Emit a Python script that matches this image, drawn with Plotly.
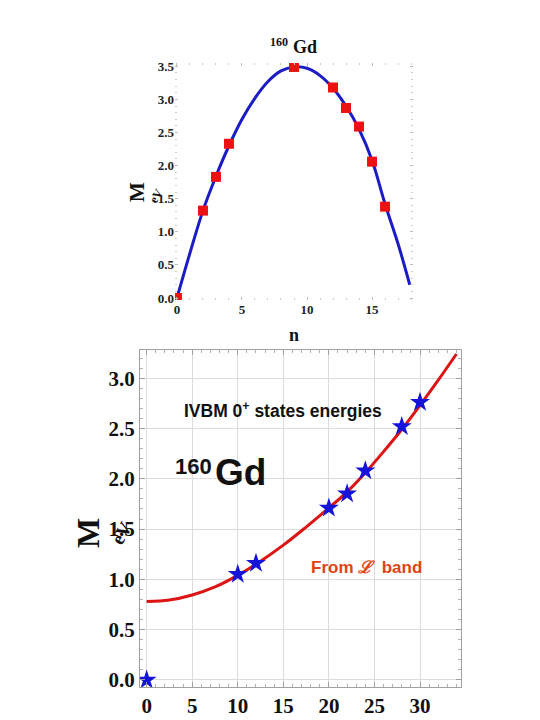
import plotly.graph_objects as go

# ---- top panel data ----
top_n = [0, 2, 3, 4, 9, 12, 13, 14, 15, 16]
top_e = [0.0, 1.32, 1.83, 2.33, 3.49, 3.18, 2.87, 2.59, 2.06, 1.38]
top_curve_n = [0, 1, 2, 3, 4, 5, 6, 7, 8, 9, 10, 11, 12, 13, 14, 15, 16, 17, 17.9]
top_curve_e = [0.0, 0.68, 1.32, 1.84, 2.3, 2.7, 3.02, 3.27, 3.43, 3.49, 3.47, 3.36, 3.17, 2.9, 2.55, 2.08, 1.42, 0.82, 0.2]
top_yticks = [0.0, 0.5, 1.0, 1.5, 2.0, 2.5, 3.0, 3.5]
top_xticks = [0, 5, 10, 15]

# ---- bottom panel data ----
bot_x = [0, 10, 12, 20, 22, 24, 28, 30]
bot_e = [0.0, 1.05, 1.16, 1.71, 1.85, 2.08, 2.52, 2.76]
bot_curve_x = [0, 2.5, 5, 7.5, 10, 12, 15, 17.5, 20, 22, 24, 26, 28, 30, 32, 34]
bot_curve_e = [0.78, 0.795, 0.845, 0.925, 1.04, 1.15, 1.34, 1.52, 1.71, 1.87, 2.06, 2.27, 2.49, 2.73, 2.98, 3.24]
bot_yticks = [0.0, 0.5, 1.0, 1.5, 2.0, 2.5, 3.0]
bot_xticks = [0, 5, 10, 15, 20, 25, 30]

W, H = 540, 720
OFF = 8  # page body margin offset
def px(x):
    return (x - OFF) / W
def py(y):
    return 1 - (y - OFF) / H

fig = go.Figure()

fig.add_trace(go.Scatter(x=top_curve_n, y=top_curve_e, mode="lines", line=dict(color="#1c1cc4", width=3, shape="spline"),
                         xaxis="x", yaxis="y", hoverinfo="skip"))
fig.add_trace(go.Scatter(x=top_n, y=top_e, mode="markers", marker=dict(symbol="square", color="#ee1111", size=10),
                         xaxis="x", yaxis="y"))

fig.add_trace(go.Scatter(x=bot_curve_x, y=bot_curve_e, mode="lines", line=dict(color="#dc1414", width=3, shape="spline"),
                         xaxis="x2", yaxis="y2", hoverinfo="skip"))
fig.add_trace(go.Scatter(x=bot_x, y=bot_e, mode="markers", marker=dict(symbol="star", color="#1414d8", size=15, line=dict(width=0)),
                         xaxis="x2", yaxis="y2"))

times = "Liberation Serif"
arial = "Liberation Sans"

fig.update_layout(
    width=W, height=H, margin=dict(l=0, r=0, t=0, b=0, autoexpand=False),
    paper_bgcolor="white", plot_bgcolor="white", showlegend=False,
    xaxis=dict(domain=[px(175), px(413)], range=[-0.15, 18.15], anchor="y", automargin=False,
               tickvals=top_xticks, ticktext=[f"<b>{v}</b>" for v in top_xticks],
               tickfont=dict(family=times, size=13, color="#222"), showgrid=False, zeroline=False,
               showline=False, ticks="inside", ticklen=3, tickcolor="#bbbbbb", mirror="ticks",
               minor=dict(dtick=1, ticks="inside", ticklen=2, tickcolor="#cccccc")),
    yaxis=dict(domain=[py(300), py(63)], range=[-0.03, 3.55], anchor="x", automargin=False,
               tickvals=top_yticks, ticktext=[f"<b>{v:.1f}</b>" for v in top_yticks],
               tickfont=dict(family=times, size=13, color="#222"), showgrid=False, zeroline=False,
               showline=False, ticks="inside", ticklen=3, tickcolor="#bbbbbb", mirror="ticks",
               minor=dict(dtick=0.1, ticks="inside", ticklen=2, tickcolor="#cccccc")),
    xaxis2=dict(domain=[px(140), px(461)], range=[-0.73, 34.5], anchor="y2", automargin=False,
                tickvals=bot_xticks, ticktext=[f"<b>{v}</b>" for v in bot_xticks],
                tickfont=dict(family=times, size=21, color="#111"),
                showgrid=True, gridcolor="#dcdcdc", gridwidth=1, zeroline=False,
                showline=True, linecolor="#a0a0a0", linewidth=1, mirror="ticks",
                ticks="inside", ticklen=5, tickcolor="#a0a0a0",
                minor=dict(dtick=1, ticks="inside", ticklen=3, tickcolor="#b0b0b0", showgrid=False)),
    yaxis2=dict(domain=[py(687), py(350)], range=[-0.07, 3.28], anchor="x2", automargin=False,
                tickvals=bot_yticks, ticktext=[f"<b>{v:.1f}</b>" for v in bot_yticks],
                tickfont=dict(family=times, size=21, color="#111"),
                showgrid=True, gridcolor="#dcdcdc", gridwidth=1, zeroline=False,
                showline=True, linecolor="#a0a0a0", linewidth=1, mirror="ticks",
                ticks="inside", ticklen=5, tickcolor="#a0a0a0",
                minor=dict(dtick=0.1, ticks="inside", ticklen=3, tickcolor="#b0b0b0", showgrid=False)),
)

anns = [
    # top panel title
    dict(text="<b>160</b>", x=px(279), y=py(42), font=dict(family=times, size=12, color="#111")),
    dict(text="<b>Gd</b>", x=px(305), y=py(47), font=dict(family=times, size=18, color="#111")),
    # top x title
    dict(text="<b>n</b>", x=px(294), y=py(335), font=dict(family=times, size=18, color="#111")),
    # top y title
    dict(text="<b>M</b>", x=px(137), y=py(192), font=dict(family=times, size=21, color="#111"), textangle=-90),
    dict(text="<b>eV</b>", x=px(156), y=py(196), font=dict(family=times, size=12, color="#111"), textangle=-60),
    # bottom y title
    dict(text="<b>M</b>", x=px(88), y=py(533), font=dict(family=times, size=32, color="#111"), textangle=-90),
    dict(text="<b>eV</b>", x=px(121), y=py(533), font=dict(family=times, size=19, color="#111"), textangle=-60),
    # bottom annotations
    dict(text="<b>IVBM 0<sup>+</sup> states energies</b>", x=px(283), y=py(410), font=dict(family=arial, size=17.5, color="#111")),
    dict(text="<b>160</b>", x=px(193), y=py(466), font=dict(family=arial, size=22, color="#111")),
    dict(text="<b>Gd</b>", x=px(240), y=py(472), font=dict(family=arial, size=37, color="#111")),
    dict(text="<b>From <i>ℒ</i>  band</b>", x=px(366), y=py(567), font=dict(family=arial, size=17, color="#e04412")),
]
for a in anns:
    a.update(xref="paper", yref="paper", showarrow=False, xanchor="center", yanchor="middle")
    fig.add_annotation(**a)

fig.write_html("out.html")
